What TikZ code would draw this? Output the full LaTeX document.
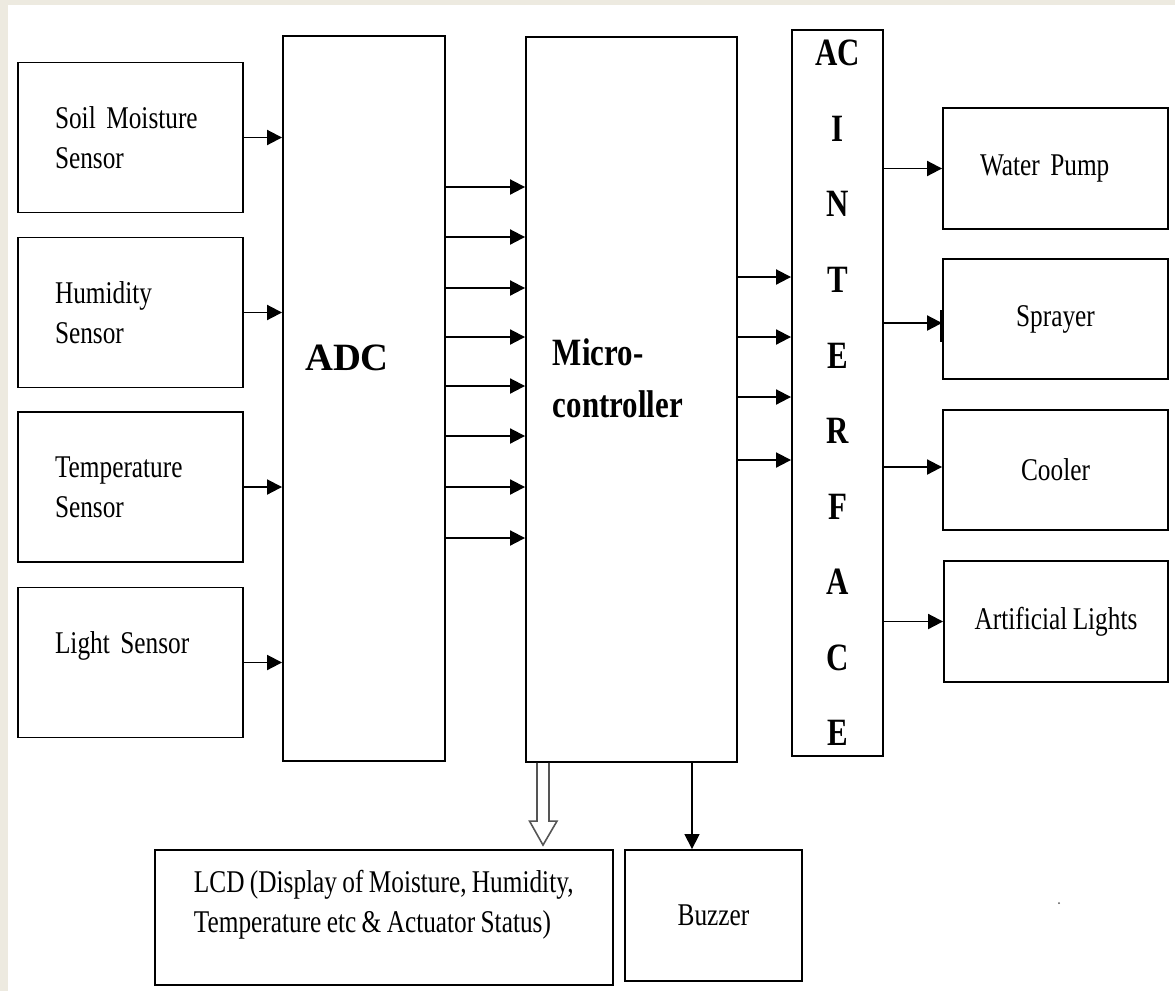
\documentclass[tikz,border=0pt]{standalone}
\usepackage{fontspec}
\setmainfont{Liberation Serif}[FakeStretch=0.8, WordSpace=0.85]
\usepackage{tikz}
\usetikzlibrary{arrows.meta, positioning, calc}
\definecolor{framebeige}{RGB}{237,234,224}
\definecolor{linegray}{RGB}{85,85,85}

\begin{document}
\begin{tikzpicture}[
      x=0.02cm, y=-0.02cm,
      font=\fontsize{18}{22.8}\selectfont,
      line width=1.1pt,
      block/.style={draw, minimum width=4.5cm, minimum height=2.4cm, align=center},
      sensor/.style={draw, minimum height=3cm, text width=3.02cm, inner xsep=0.74cm, align=left},
      tall/.style={draw, minimum height=14.5cm, inner sep=0pt},
      big/.style={font=\fontsize{22}{29.5}\selectfont\bfseries, align=left, inner sep=0pt},
      ifc/.style={tall, font=\fontsize{22}{43}\selectfont\bfseries, align=center},
      arr/.style={-{Triangle[length=0.3cm, width=0.3cm]}},
      hollow/.style={draw=linegray, line width=0.9pt, line join=miter},
    ]
    % page frame
    \fill[framebeige] (0,0) rectangle (1175,991);
    \fill[white] (8,5) rectangle (1175,991);
    \useasboundingbox (0,0) rectangle (1175,991);

    % sensors
    \node[sensor] (soil) at (130.5,137.5) {Soil Moisture\\Sensor};
    \node[sensor] (hum) at (130.5,312.5) {Humidity\\Sensor};
    \node[sensor] (temp) at (130.5,487) {Temperature\\Sensor};
    \node[sensor] (light) at (130.5,662.5) {Light Sensor\\~};

    % converter, controller and interface
    \node[tall, minimum width=3.24cm] (adc) at (364,398.5) {};
    \node[big] (adclbl) at (347,358) {\scalebox{1.25}[1]{ADC}};
    \node[tall, minimum width=4.22cm] (mc) at (631.5,399.5) {};
    \node[big, anchor=north west] (mclbl) at (552,338) {Micro-\\controller};
    \node[ifc, minimum width=1.82cm, minimum height=14.54cm] (aci) at (837.5,393) {AC\\I\\N\\T\\E\\R\\F\\A\\C\\E};

    % actuators
    \node[sensor, minimum height=2.42cm] (pump) at (1055.5,168.5) {Water Pump};
    \node[block] (spray) at (1055.5,319) {Sprayer};
    \node[block] (cool) at (1055.5,470) {Cooler};
    \node[block, minimum width=4.48cm, minimum height=2.42cm] (lights) at (1056,621.5) {Artificial Lights};

    % outputs below
    \node[block, minimum width=9.16cm, minimum height=2.7cm] (lcd) at (384,917.5) {};
    \node[anchor=west, align=left, inner sep=0pt] (lcdlbl) at (193,905) {LCD (Display of Moisture, Humidity,\\Temperature etc \& Actuator Status)};
    \node[block, minimum width=3.54cm, minimum height=2.62cm] (buzz) at (713.5,915.5) {Buzzer};

    \draw[arr] (soil.east) -- (soil.east -| adc.west);
    \draw[arr] (hum.east) -- (hum.east -| adc.west);
    \draw[arr] (temp.east) -- (temp.east -| adc.west);
    \draw[arr] (light.east) -- (light.east -| adc.west);

    \draw[arr] (adc.east |- 0,187) -- (mc.west |- 0,187);
    \draw[arr] (adc.east |- 0,237) -- (mc.west |- 0,237);
    \draw[arr] (adc.east |- 0,288) -- (mc.west |- 0,288);
    \draw[arr] (adc.east |- 0,337) -- (mc.west |- 0,337);
    \draw[arr] (adc.east |- 0,386) -- (mc.west |- 0,386);
    \draw[arr] (adc.east |- 0,436) -- (mc.west |- 0,436);
    \draw[arr] (adc.east |- 0,487) -- (mc.west |- 0,487);
    \draw[arr] (adc.east |- 0,538) -- (mc.west |- 0,538);

    \draw[arr] (mc.east |- 0,277) -- (aci.west |- 0,277);
    \draw[arr] (mc.east |- 0,337) -- (aci.west |- 0,337);
    \draw[arr] (mc.east |- 0,397) -- (aci.west |- 0,397);
    \draw[arr] (mc.east |- 0,460) -- (aci.west |- 0,460);

    \draw[arr] (aci.east |- pump) -- (pump.west);
    \draw[arr] (aci.east |- 0,323) -- (spray.west |- 0,323);
    \draw[line width=2.2pt] (spray.west |- 0,310) -- (spray.west |- 0,342);
    \draw[arr] (aci.east |- 0,467) -- (cool.west |- 0,467);
    \draw[arr] (aci.east |- lights) -- (lights.west);

    % display bus and buzzer line
    \coordinate (mcout) at (mc.south -| 543,0);
    \coordinate (lcdin) at (lcd.north -| 543,0);
    \draw[hollow] ([xshift=-0.12cm]mcout) -- ([xshift=-0.12cm, yshift=0.56cm]lcdin)
      -- ([xshift=-0.27cm, yshift=0.56cm]lcdin) -- ([yshift=0.08cm]lcdin)
      -- ([xshift=0.28cm, yshift=0.56cm]lcdin) -- ([xshift=0.12cm, yshift=0.56cm]lcdin)
      -- ([xshift=0.12cm]mcout);
    \draw[arr, line width=0.9pt] (692,0 |- mc.south) -- (692,0 |- buzz.north);

    \fill[linegray] (1059,903) circle (0.02cm);
  \end{tikzpicture}
\end{document}
